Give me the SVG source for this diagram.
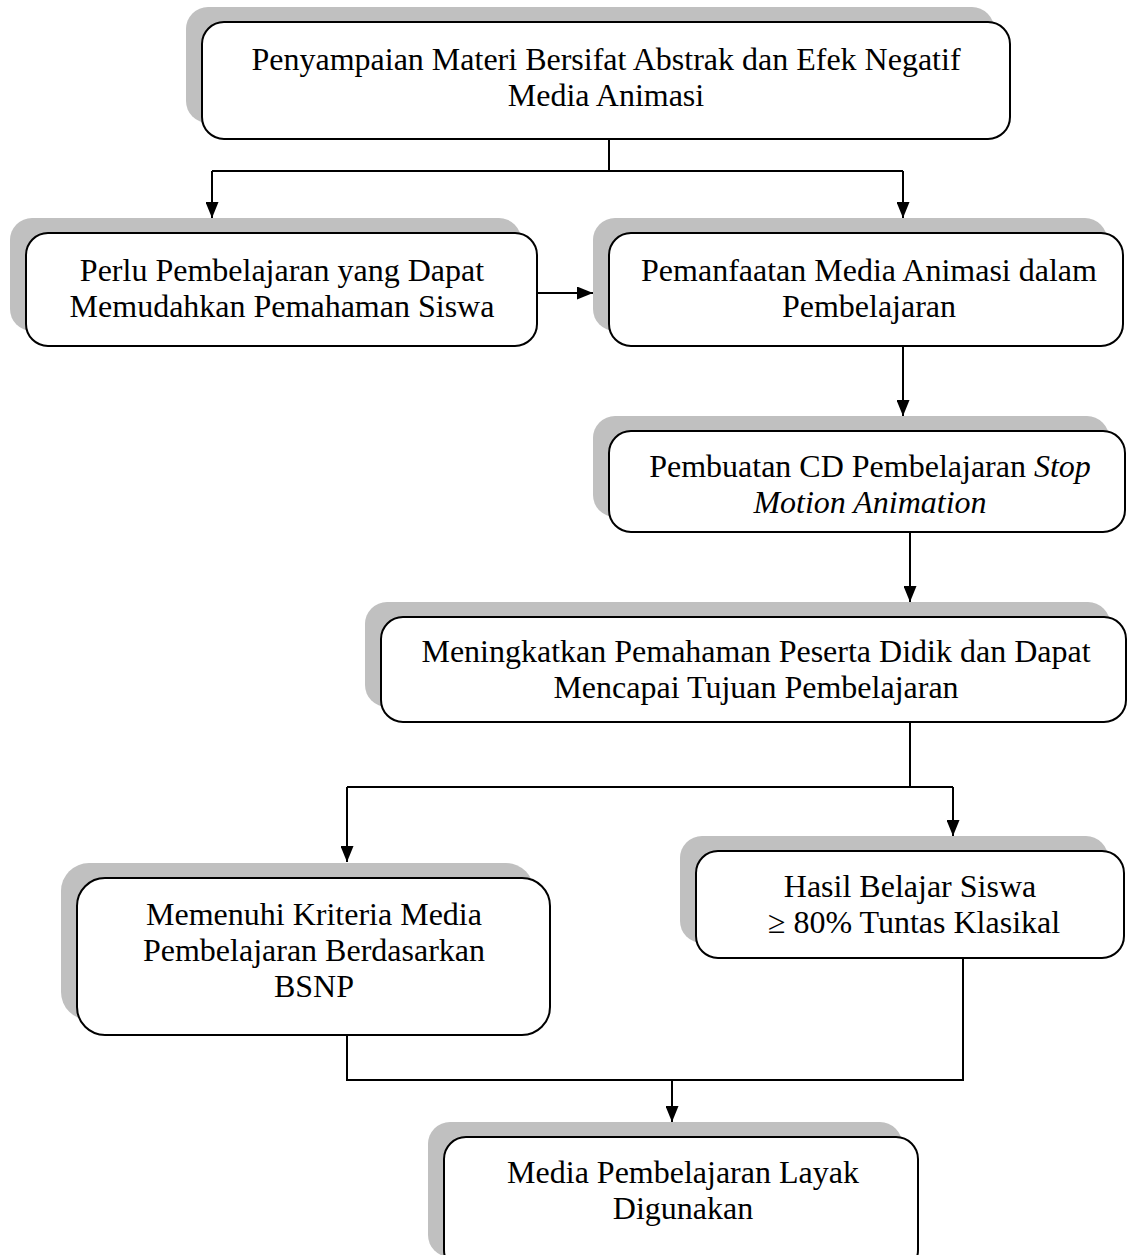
<svg xmlns="http://www.w3.org/2000/svg" width="1128" height="1255" viewBox="0 0 1128 1255">
<defs>
<style>
.sh{fill:#c0c0c0;stroke:none}
.bx{fill:#ffffff;stroke:#000;stroke-width:2}
.t{font-family:"Liberation Serif","Times New Roman",serif;font-size:32px;fill:#000;text-anchor:middle}
.i{font-style:italic}
.c{fill:none;stroke:#000;stroke-width:2}
</style>
<marker id="ah" viewBox="0 0 16 13" markerWidth="16" markerHeight="13" markerUnits="userSpaceOnUse" refX="16" refY="6.5" orient="auto">
<path d="M0,0 L16,6.5 L0,13 z" fill="#000"/>
</marker>
</defs>
<rect width="1128" height="1255" fill="#fff"/>

<g id="connectors">
<path class="c" d="M609,139 V171 M212,171 H903"/>
<path class="c" d="M212,171 V218" marker-end="url(#ah)"/>
<path class="c" d="M903,171 V218" marker-end="url(#ah)"/>
<path class="c" d="M537,293 H593" marker-end="url(#ah)"/>
<path class="c" d="M903,346 V416" marker-end="url(#ah)"/>
<path class="c" d="M910,532 V602" marker-end="url(#ah)"/>
<path class="c" d="M910,722 V787 M347,787 H953"/>
<path class="c" d="M347,787 V862" marker-end="url(#ah)"/>
<path class="c" d="M953,787 V836" marker-end="url(#ah)"/>
<path class="c" d="M347,1035 V1080 H963 V958"/>
<path class="c" d="M672,1080 V1122" marker-end="url(#ah)"/>
</g>

<g id="n1">
<rect class="sh" x="186" y="7" width="808" height="116" rx="22"/>
<rect class="bx" x="202" y="22" width="808" height="117" rx="22"/>
<text class="t" x="606" y="70">Penyampaian Materi Bersifat Abstrak dan Efek Negatif</text>
<text class="t" x="606" y="106">Media Animasi</text>
</g>

<g id="n2">
<rect class="sh" x="10" y="218" width="511" height="113" rx="22"/>
<rect class="bx" x="26" y="233" width="511" height="113" rx="22"/>
<text class="t" x="282" y="281">Perlu Pembelajaran yang Dapat</text>
<text class="t" x="282" y="317">Memudahkan Pemahaman Siswa</text>
</g>

<g id="n3">
<rect class="sh" x="593" y="218" width="514" height="113" rx="22"/>
<rect class="bx" x="609" y="233" width="514" height="113" rx="22"/>
<text class="t" x="869" y="281">Pemanfaatan Media Animasi dalam</text>
<text class="t" x="869" y="317">Pembelajaran</text>
</g>

<g id="n4">
<rect class="sh" x="593" y="416" width="516" height="101" rx="22"/>
<rect class="bx" x="609" y="431" width="516" height="101" rx="22"/>
<text class="t" x="870" y="477">Pembuatan CD Pembelajaran <tspan class="i">Stop</tspan></text>
<text class="t i" x="870" y="513">Motion Animation</text>
</g>

<g id="n5">
<rect class="sh" x="365" y="602" width="745" height="105" rx="22"/>
<rect class="bx" x="381" y="617" width="745" height="105" rx="22"/>
<text class="t" x="756" y="662">Meningkatkan Pemahaman Peserta Didik dan Dapat</text>
<text class="t" x="756" y="698">Mencapai Tujuan Pembelajaran</text>
</g>

<g id="n6">
<rect class="sh" x="61" y="863" width="473" height="157" rx="28"/>
<rect class="bx" x="77" y="878" width="473" height="157" rx="28"/>
<text class="t" x="314" y="925">Memenuhi Kriteria Media</text>
<text class="t" x="314" y="961">Pembelajaran Berdasarkan</text>
<text class="t" x="314" y="997">BSNP</text>
</g>

<g id="n7">
<rect class="sh" x="680" y="836" width="428" height="107" rx="22"/>
<rect class="bx" x="696" y="851" width="428" height="107" rx="22"/>
<text class="t" x="910" y="897">Hasil Belajar Siswa</text>
<text class="t" x="914" y="933">≥ 80% Tuntas Klasikal</text>
</g>

<g id="n8">
<rect class="sh" x="428" y="1122" width="474" height="135" rx="22"/>
<rect class="bx" x="444" y="1137" width="474" height="135" rx="22"/>
<text class="t" x="683" y="1183">Media Pembelajaran Layak</text>
<text class="t" x="683" y="1219">Digunakan</text>
</g>
</svg>
